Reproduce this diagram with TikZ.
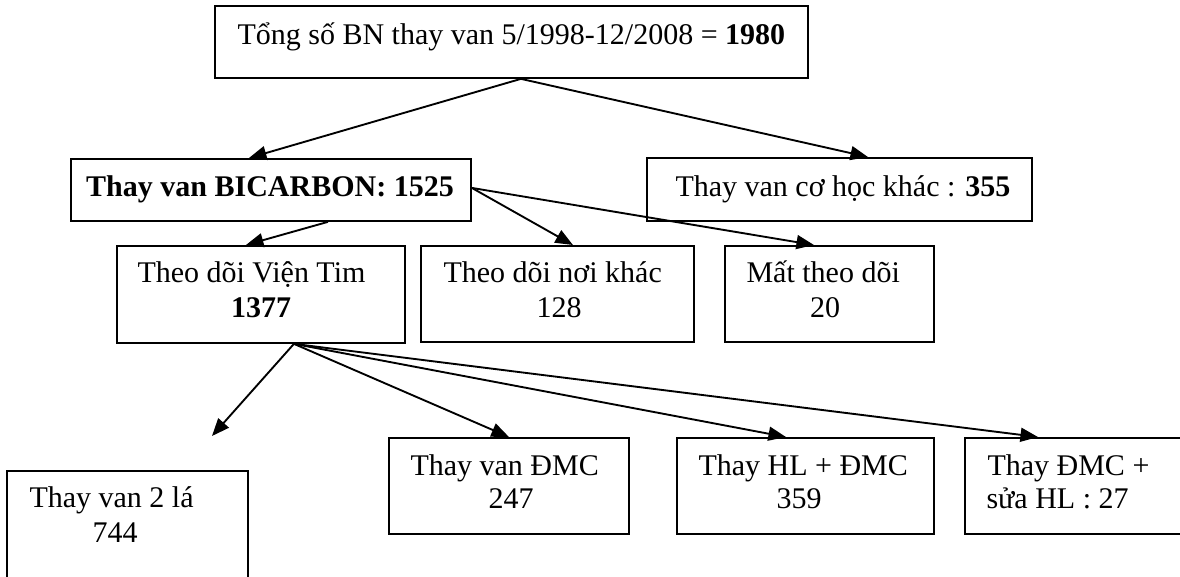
\documentclass[tikz,border=0pt]{standalone}
\usepackage{fontspec}
\setmainfont{Liberation Serif}
\usetikzlibrary{arrows.meta}

\begin{document}
\begin{tikzpicture}[
        x=0.4pt, y=-0.4pt,
        box/.style={draw=black, line width=0.75pt, inner sep=0pt, anchor=north west},
        txt/.style={inner sep=0pt, font=\fontsize{12pt}{14pt}\selectfont},
        arr/.style={-{Triangle[length=7pt,width=5.6pt]}, line width=0.75pt}]
        \useasboundingbox (0,0) rectangle (1180,577);
        % NODES
        % total box
        \node[box, minimum width=237.2pt, minimum height=28.8pt] (tong) at (214,5) {};
        \node[txt, anchor=base west] (tong-t) at (237,45) {Tổng số BN thay van 5/1998-12/2008 = \textbf{1980}};
        % bicarbon box
        \node[box, minimum width=160pt, minimum height=24.8pt] (bic) at (70,158) {};
        \node[txt, anchor=base] (bic-t) at (270,197) {\textbf{Thay van BICARBON: 1525}};
        % other valves box
        \node[box, minimum width=154pt, minimum height=25.2pt] (khac) at (646,157) {};
        \node[txt, anchor=base west] (khac-t) at (675,197) {Thay van cơ học khác : \textbf{355}};
        % follow-up boxes
        \node[box, minimum width=115.2pt, minimum height=38.8pt] (vien) at (116,245) {};
        \node[txt, anchor=base west] (vien-t) at (137,283) {Theo dõi Viện Tim};
        \node[txt, anchor=base] (vien-n) at (261,318) {\textbf{1377}};
        \node[box, minimum width=109.2pt, minimum height=38.4pt] (noi) at (420,245) {};
        \node[txt, anchor=base west] (noi-t) at (443,283) {Theo dõi nơi khác};
        \node[txt, anchor=base] (noi-n) at (559,318) {128};
        \node[box, minimum width=83.6pt, minimum height=38.4pt] (mat) at (724,245) {};
        \node[txt, anchor=base west] (mat-t) at (746,283) {Mất theo dõi};
        \node[txt, anchor=base] (mat-n) at (825,318) {20};
        % surgery boxes
        \node[box, minimum width=96.4pt, minimum height=56pt] (hai) at (6,470) {};
        \node[txt, anchor=base west] (hai-t) at (29,508) {Thay van 2 lá};
        \node[txt, anchor=base] (hai-n) at (115,543) {744};
        \node[box, minimum width=96pt, minimum height=38.4pt] (dmc) at (388,437) {};
        \node[txt, anchor=base west] (dmc-t) at (410,476) {Thay van ĐMC};
        \node[txt, anchor=base] (dmc-n) at (511,509) {247};
        \node[box, minimum width=102.8pt, minimum height=38.4pt] (hl) at (676,437) {};
        \node[txt, anchor=base west] (hl-t) at (698,476) {Thay HL + ĐMC};
        \node[txt, anchor=base] (hl-n) at (799,509) {359};
        \node[box, minimum width=98.4pt, minimum height=38.4pt] (sua) at (964,437) {};
        \node[txt, anchor=base west] (sua-t) at (987,476) {Thay ĐMC +};
        \node[txt, anchor=base west] (sua-n) at (986,509) {sửa HL : 27};
        % loose arrow end
        \coordinate (hai-end) at (212,436);

        % ARROWS
        \draw[arr] ([xshift=3.8pt]tong.south) -- ([xshift=-8.8pt]bic.north);
        \draw[arr] ([xshift=3.8pt]tong.south) -- ([xshift=11.4pt]khac.north);
        \draw[arr] ([xshift=22.8pt]bic.south) -- ([xshift=-6pt]vien.north);
        \draw[arr] ([yshift=0.8pt]bic.east) -- ([xshift=6.2pt]noi.north);
        \draw[arr] ([yshift=0.8pt]bic.east) -- ([xshift=-6.2pt]mat.north);
        \draw[arr] ([xshift=13.2pt]vien.south) -- (hai-end);
        \draw[arr] ([xshift=13.2pt]vien.south) -- (dmc.north);
        \draw[arr] ([xshift=13.2pt]vien.south) -- ([xshift=-7.8pt]hl.north);
        \draw[arr] ([xshift=13.2pt]vien.south) -- ([xshift=-20pt]sua.north);
\end{tikzpicture}
\end{document}
